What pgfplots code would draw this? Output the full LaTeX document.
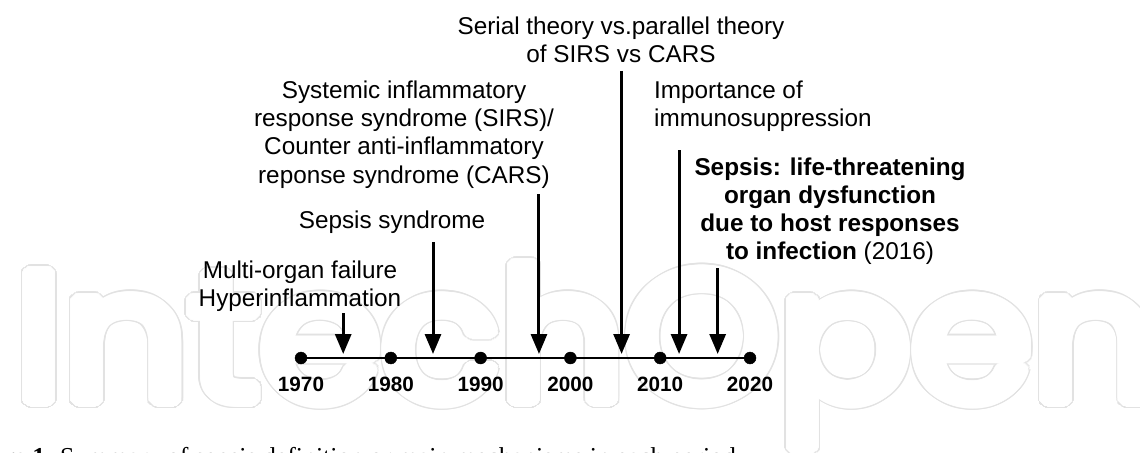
\documentclass[border=0pt]{standalone}
\usepackage{pgfplots}
\pgfplotsset{compat=1.18}
\usetikzlibrary{arrows.meta}
\usepackage{fontspec}
\setmainfont{Liberation Sans}
\newfontfamily\capfont{Liberation Serif}
\newfontfamily\wmfont{Poppins}
\usepackage{contour}
\contournumber{32}
\definecolor{wm}{RGB}{226,226,226}
\newcommand{\txt}{\fontsize{24.3bp}{28bp}\selectfont}
\newcommand{\yr}{\bfseries\fontsize{20.7bp}{24bp}\selectfont}
\newcommand{\wmsize}{\wmfont\fontsize{182bp}{182bp}\selectfont}
\begin{document}
\begin{tikzpicture}
\path[use as bounding box, clip] (0,0) rectangle (1140bp,453bp);
\begin{axis}[at={(0,0)}, anchor=south west, scale only axis,
  width=1140bp, height=453bp,
  xmin=1936.481, xmax=2063.430, ymin=0, ymax=453, y dir=reverse,
  hide axis, clip=false]
% watermark (outlined letters)
\node[anchor=base west, inner sep=0] at (axis cs:1938.151,400)
  {\scalebox{1.075}[1]{\wmsize\contourlength{8.4bp}\color{wm}\contour{wm}{IntechOpen}}};
\node[anchor=base west, inner sep=0] at (axis cs:1938.151,400)
  {\scalebox{1.075}[1]{\wmsize\contourlength{7bp}\color{white}\contour{white}{IntechOpen}}};
% timeline
\addplot[line width=2bp, black] coordinates {(1970,358) (2020,358)};
\addplot[only marks, mark=*, mark size=6bp, black] coordinates {(1970,358) (1980,358) (1990,358) (2000,358) (2010,358) (2020,358)};
% arrows
\addplot[line width=3bp, black, -{Triangle[width=16bp,length=20bp]}] coordinates {(1974.7,313) (1974.7,354)};
\addplot[line width=3bp, black, -{Triangle[width=16bp,length=20bp]}] coordinates {(1984.7,242) (1984.7,354)};
\addplot[line width=3bp, black, -{Triangle[width=16bp,length=20bp]}] coordinates {(1996.5,194) (1996.5,354)};
\addplot[line width=3bp, black, -{Triangle[width=16bp,length=20bp]}] coordinates {(2005.7,71) (2005.7,354)};
\addplot[line width=3bp, black, -{Triangle[width=16bp,length=20bp]}] coordinates {(2012.1,150) (2012.1,354)};
\addplot[line width=3bp, black, -{Triangle[width=16bp,length=20bp]}] coordinates {(2016.4,268) (2016.4,354)};
% year labels
\node[anchor=base, inner sep=0, font=\yr] at (axis cs:1970,391) {1970};
\node[anchor=base, inner sep=0, font=\yr] at (axis cs:1980,391) {1980};
\node[anchor=base, inner sep=0, font=\yr] at (axis cs:1990,391) {1990};
\node[anchor=base, inner sep=0, font=\yr] at (axis cs:2000,391) {2000};
\node[anchor=base, inner sep=0, font=\yr] at (axis cs:2010,391) {2010};
\node[anchor=base, inner sep=0, font=\yr] at (axis cs:2020,391) {2020};
% texts
\node[anchor=base, inner sep=0, font=\txt] at (axis cs:2005.635,35) {Serial theory vs.parallel theory};
\node[anchor=base, inner sep=0, font=\txt] at (axis cs:2005.635,63) {of SIRS vs CARS};
\node[anchor=base, inner sep=0, font=\txt] at (axis cs:1981.47,98) {Systemic inflammatory};
\node[anchor=base, inner sep=0, font=\txt] at (axis cs:1981.47,126) {response syndrome (SIRS)/};
\node[anchor=base, inner sep=0, font=\txt] at (axis cs:1981.47,154.5) {Counter anti-inflammatory};
\node[anchor=base, inner sep=0, font=\txt] at (axis cs:1981.47,183) {reponse syndrome (CARS)};
\node[anchor=base west, inner sep=0, font=\txt] at (axis cs:2009.31,98) {Importance of};
\node[anchor=base west, inner sep=0, font=\txt] at (axis cs:2009.31,126) {immunosuppression};
\node[anchor=base, inner sep=0, font=\txt] at (axis cs:2028.909,175) {\bfseries Sepsis: life-threatening};
\node[anchor=base, inner sep=0, font=\txt] at (axis cs:2028.909,203) {\bfseries organ dysfunction};
\node[anchor=base, inner sep=0, font=\txt] at (axis cs:2028.909,231) {\bfseries due to host responses};
\node[anchor=base, inner sep=0, font=\txt] at (axis cs:2028.909,259) {\textbf{to infection} (2016)};
\node[anchor=base, inner sep=0, font=\txt] at (axis cs:1980.134,228) {Sepsis syndrome};
\node[anchor=base, inner sep=0, font=\txt] at (axis cs:1969.889,278) {Multi-organ failure};
\node[anchor=base, inner sep=0, font=\txt] at (axis cs:1969.889,306) {Hyperinflammation};
% caption
\node[anchor=base west, inner sep=0, font={\capfont\fontsize{25.8bp}{30bp}\selectfont}] at (axis cs:1931.25,465) {\textbf{Figure 1.} Summary of sepsis definition or main mechanisms in each period.};
\end{axis}
\end{tikzpicture}
\end{document}
